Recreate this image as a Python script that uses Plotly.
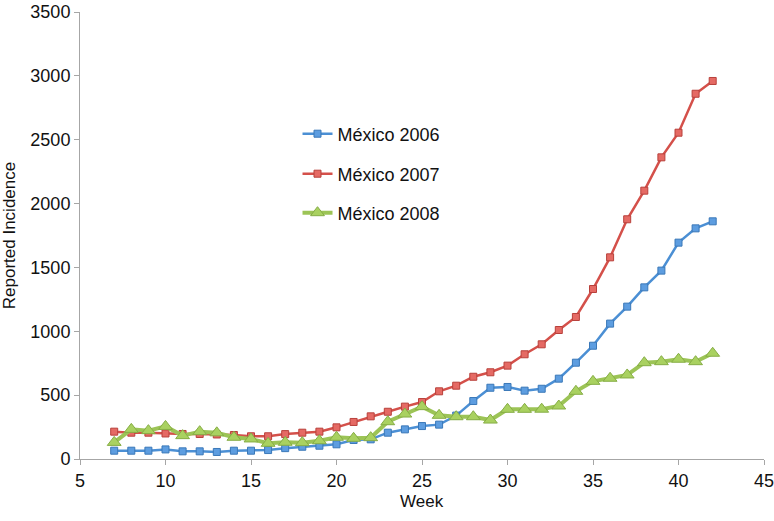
import plotly.graph_objects as go

weeks = list(range(7, 43))

mexico_2006 = [65, 65, 65, 75, 60, 60, 55, 65, 65, 70, 85, 96, 104, 115, 149, 154,
               206, 232, 258, 269, 340, 454, 558, 564, 535, 550, 629, 754, 887,
               1060, 1193, 1344, 1475, 1694, 1806, 1861]
mexico_2007 = [214, 206, 206, 200, 196, 196, 192, 188, 178, 178, 195, 206, 214,
               248, 290, 334, 370, 410, 446, 530, 574, 644, 679, 731, 820, 898,
               1010, 1112, 1331, 1579, 1877, 2101, 2362, 2555, 2860, 2960]
mexico_2008 = [130, 232, 222, 255, 183, 214, 205, 170, 157, 123, 131, 128, 143,
               170, 162, 167, 292, 352, 410, 342, 331, 331, 305, 389, 389, 390,
               415, 530, 608, 632, 658, 754, 762, 781, 762, 828]

series_names = ["México 2006", "México 2007", "México 2008"]
x_ticks = [5, 10, 15, 20, 25, 30, 35, 40, 45]
y_ticks = [0, 500, 1000, 1500, 2000, 2500, 3000, 3500]
x_title = "Week"
y_title = "Reported Incidence"

font_family = "Liberation Sans, Arial, sans-serif"
axis_color = "#a6a6a6"

W, H = 774, 521
ML, MR, MT, MB = 80, 10, 12, 62
plot_h = H - MT - MB


def paper_y(pix):
    # pix: vertical pixel position in the page -> paper coordinate
    return 1 - (pix - MT) / plot_h


fig = go.Figure()
fig.add_trace(go.Scatter(
    x=weeks, y=mexico_2006, name=series_names[0], mode="lines+markers",
    line=dict(color="#4b8fd4", width=2.5),
    marker=dict(symbol="square", size=7, color="#5d9de0",
                line=dict(color="#3a78b8", width=1)),
    legend="legend"))
fig.add_trace(go.Scatter(
    x=weeks, y=mexico_2007, name=series_names[1], mode="lines+markers",
    line=dict(color="#d4504a", width=2.5),
    marker=dict(symbol="square", size=7, color="#e56a64",
                line=dict(color="#b8403b", width=1)),
    legend="legend2"))
fig.add_trace(go.Scatter(
    x=weeks, y=mexico_2008, name=series_names[2], mode="lines+markers",
    line=dict(color="#9cc456", width=4),
    marker=dict(symbol="triangle-up", size=12, color="#a9d160",
                line=dict(color="#86ad45", width=1)),
    legend="legend3"))

legend_common = dict(font=dict(family=font_family, size=18, color="#111111"),
                     bgcolor="rgba(0,0,0,0)", borderwidth=0,
                     xanchor="left", yanchor="middle", itemwidth=30)

fig.update_layout(
    width=W, height=H,
    margin=dict(l=ML, r=MR, t=MT, b=MB, autoexpand=False),
    paper_bgcolor="white", plot_bgcolor="white",
    font=dict(family=font_family, size=17, color="#111111"),
    showlegend=True,
    legend=dict(x=0.318, y=paper_y(134), **legend_common),
    legend2=dict(x=0.318, y=paper_y(174), **legend_common),
    legend3=dict(x=0.318, y=paper_y(213), **legend_common),
    xaxis=dict(range=[5, 45], tickvals=x_ticks, showgrid=False, zeroline=False,
               showline=True, linecolor=axis_color, linewidth=1,
               ticks="outside", ticklen=5, tickcolor=axis_color,
               tickfont=dict(size=18), automargin=False,
               ticklabeloverflow="allow"),
    yaxis=dict(range=[0, 3500], tickvals=y_ticks, showgrid=False, zeroline=False,
               showline=True, linecolor=axis_color, linewidth=1,
               ticks="outside", ticklen=5, tickcolor=axis_color,
               tickfont=dict(size=18), automargin=False,
               ticklabeloverflow="allow",
               title=dict(text=y_title, font=dict(size=17), standoff=10)),
    annotations=[dict(text=x_title, xref="paper", yref="paper",
                      x=0.5, y=paper_y(501), xanchor="center", yanchor="middle",
                      showarrow=False, font=dict(size=17))],
)

fig.write_html("out.html", config={"displayModeBar": False},
               post_script="document.body.style.margin='0';")
